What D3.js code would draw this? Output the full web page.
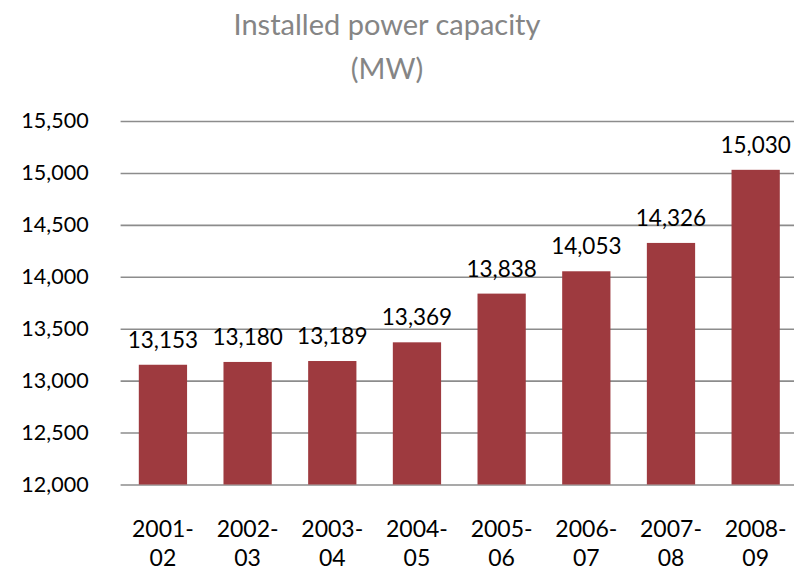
<!DOCTYPE html>
<html>
<head>
<meta charset="utf-8">
<script src="https://cdn.jsdelivr.net/npm/d3@7"></script>
<style>
  body { margin: 0; background: #fff; }
  svg { display: block; font-family: Lato, "Open Sans", sans-serif; }
</style>
</head>
<body>
<svg id="chart" width="794" height="570"></svg>
<script>
// data
var years = ["2001-02", "2002-03", "2003-04", "2004-05", "2005-06", "2006-07", "2007-08", "2008-09"];
var capacity = [13153, 13180, 13189, 13369, 13838, 14053, 14326, 15030];
var yTicks = [12000, 12500, 13000, 13500, 14000, 14500, 15000, 15500];
var titleLines = ["Installed power capacity", "(MW)"];

var svg = d3.select("#chart");
// plot box (window.top is reserved, so no bare "top")
var plotL = 120.6, plotR = 798, plotT = 121, plotB = 484.5;

var x = d3.scaleBand()
    .domain(years)
    .range([plotL, plotR])
    .paddingInner(0.43)
    .paddingOuter(0.215);

var y = d3.scaleLinear()
    .domain([12000, 15500])
    .range([plotB, plotT]);

var fmt = d3.format(",");

// gridlines + y labels
var yAxis = d3.axisLeft(y)
    .tickValues(yTicks)
    .tickFormat(fmt)
    .tickSize(-(plotR - plotL))
    .tickPadding(32);

var gy = svg.append("g")
    .attr("transform", "translate(" + plotL + ",0)")
    .call(yAxis);
gy.select(".domain").remove();
gy.selectAll(".tick line").attr("stroke", "#8c8c8c").attr("stroke-width", 1.6);
gy.selectAll(".tick text")
    .attr("fill", "#000")
    .attr("font-size", 21.5)
    .attr("font-family", "Lato, sans-serif");

// bars
svg.selectAll("rect.bar")
    .data(capacity)
    .enter()
    .append("rect")
    .attr("class", "bar")
    .attr("x", function (d, i) { return x(years[i]); })
    .attr("width", x.bandwidth())
    .attr("y", function (d) { return y(d); })
    .attr("height", function (d) { return plotB - y(d); })
    .attr("fill", "#9e3a3f");

// value labels
svg.selectAll("text.val")
    .data(capacity)
    .enter()
    .append("text")
    .attr("class", "val")
    .attr("x", function (d, i) { return x(years[i]) + x.bandwidth() / 2; })
    .attr("y", function (d) { return y(d) - 17; })
    .attr("text-anchor", "middle")
    .attr("font-size", 22.5)
    .attr("fill", "#000")
    .text(function (d) { return fmt(d); });

// x labels on two lines
var xl = svg.selectAll("text.xl")
    .data(years)
    .enter()
    .append("text")
    .attr("class", "xl")
    .attr("text-anchor", "middle")
    .attr("font-size", 23)
    .attr("fill", "#000");
xl.append("tspan")
    .attr("x", function (d) { return x(d) + x.bandwidth() / 2; })
    .attr("y", 537)
    .text(function (d) { return d.split("-")[0] + "-"; });
xl.append("tspan")
    .attr("x", function (d) { return x(d) + x.bandwidth() / 2; })
    .attr("y", 566)
    .text(function (d) { return d.split("-")[1]; });

// title
svg.selectAll("text.title")
    .data(titleLines)
    .enter()
    .append("text")
    .attr("class", "title")
    .attr("x", 387)
    .attr("y", function (d, i) { return 35 + i * 44; })
    .attr("text-anchor", "middle")
    .attr("font-size", 29)
    .attr("fill", "#858585")
    .text(function (d) { return d; });
</script>
</body>
</html>
